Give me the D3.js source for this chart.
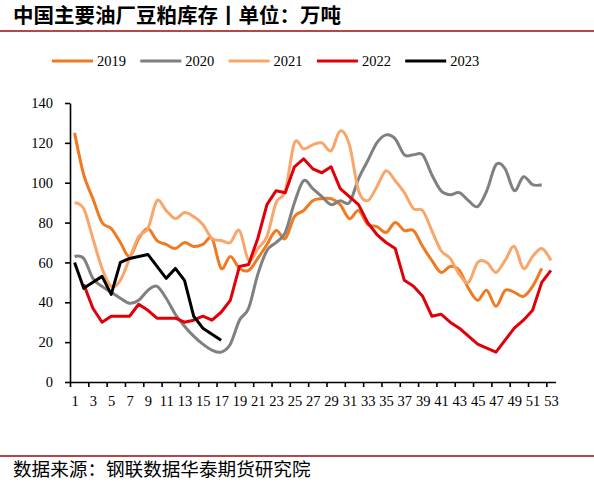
<!DOCTYPE html>
<html>
<head>
<meta charset="utf-8">
<script src="https://cdn.jsdelivr.net/npm/d3@7"></script>
<style>
  body { margin: 0; background: #fff; }
  svg { display: block; }
  .num { font-family: "Liberation Serif", "Times New Roman", serif; fill: #000; }
  .cjk { font-family: "Noto Sans CJK SC", "Noto Sans", sans-serif; fill: #000; }
</style>
</head>
<body>
<svg id="chart"></svg>
<script>
//begin: data
var weeks = [1,2,3,4,5,6,7,8,9,10,11,12,13,14,15,16,17,18,19,20,21,22,23,24,25,26,27,
             28,29,30,31,32,33,34,35,36,37,38,39,40,41,42,43,44,45,46,47,48,49,50,51,52,53];
var yTicks = [0,20,40,60,80,100,120,140];
var seriesNames = ["2019","2020","2021","2022","2023"];
var v2019 = [125,104,92,80,77,70,63,72,77,71,69,67,70,68,69,72,57,63,57,56,62,69,76,72,83,86,
             91,92,92,89,82,86,79,78,75,80,76,76,68,61,55,58,56,47,41,46,38,46,45,43,48,57,null];
var v2020 = [63,62,52,48,45,42,39.5,41,46,48,42,34,28,23,19,16,15,19,31,37,54,66,70,75,90,101,
             97,93,89,91,90,102,111,120,124,122,114,114,114,104,96,94,95,91,88,96,109,107,96,103,99,99,null];
var v2021 = [90,87,72,57,48,51,62,73,77,91,86,82,85,83,79,72,71,70,76,61,67,73,90,96,120,117,
             119,120,116,126,119,96,91,98,106,101,95,87,86,76,66,62,54,50,60,60,55,61,68,57,63,67,61];
var v2022 = [null,49,37,30,33,33,33,39,36,32,32,32,30,31,33,31,35,41,58,59,72,89,96,95,108,112,
             107,105,108,97,93,89,80,74,70,67,51,48,43,33,34,30,27,23,19,17,15,21,27,31,36,50,56];
var v2023 = [60,47,50,53,44,60,62,63,64,58,52,57,51,33,27,24,21];
//end: data

//begin: layout conf.
var svgWidth = 594,
    svgHeight = 484,
    plotLeft = 70,
    plotRight = 555.5,
    plotTop = 103,
    plotBottom = 382;
var colors = ["#F07A22", "#808080", "#F9A66C", "#E0000A", "#000000"];
var smooth = [true, true, true, false, false];
//end: layout conf.

var svg = d3.select("#chart")
    .attr("width", svgWidth)
    .attr("height", svgHeight);

svg.append("rect")
    .attr("width", svgWidth)
    .attr("height", svgHeight)
    .attr("fill", "#fff");

// title + separators
svg.append("text")
    .attr("class", "cjk")
    .attr("x", 13)
    .attr("y", 23)
    .style("font-size", "20.5px")
    .style("font-weight", "bold")
    .text("中国主要油厂豆粕库存丨单位：万吨");

svg.append("line")
    .attr("x1", 0).attr("x2", svgWidth)
    .attr("y1", 31).attr("y2", 31)
    .attr("stroke", "#B5474B")
    .attr("stroke-width", 2);

svg.append("line")
    .attr("x1", 0).attr("x2", svgWidth)
    .attr("y1", 456).attr("y2", 456)
    .attr("stroke", "#B5474B")
    .attr("stroke-width", 2);

svg.append("text")
    .attr("class", "cjk")
    .attr("x", 13)
    .attr("y", 476)
    .style("font-size", "18.6px")
    .text("数据来源：钢联数据华泰期货研究院");

// scales
var x = d3.scalePoint()
    .domain(weeks)
    .range([plotLeft, plotRight])
    .padding(0.5);

var xEdge = d3.scaleLinear()
    .domain([0, weeks.length])
    .range([plotLeft, plotRight]);

var y = d3.scaleLinear()
    .domain([0, 140])
    .range([plotBottom, plotTop]);

// axes
var yAxis = svg.append("g")
    .attr("transform", "translate(" + plotLeft + ",0)")
    .call(d3.axisLeft(y).tickValues(yTicks).tickSize(5).tickSizeOuter(0).tickPadding(12));

var xTicks = svg.append("g")
    .attr("transform", "translate(0," + plotBottom + ")")
    .call(d3.axisBottom(xEdge)
        .tickValues(weeks.filter(function(w){ return w % 2 === 1; }).map(function(w){ return w - 1; }))
        .tickSize(5).tickSizeOuter(0).tickFormat(""));

var xLabels = svg.append("g")
    .attr("transform", "translate(0," + plotBottom + ")")
    .call(d3.axisBottom(x)
        .tickValues(weeks.filter(function(w){ return w % 2 === 1; }))
        .tickSize(0).tickPadding(14));
xLabels.select(".domain").remove();

[yAxis, xTicks].forEach(function(g){
  g.selectAll(".domain, line").attr("stroke", "#000").attr("stroke-width", 1.6);
});
yAxis.selectAll("text").attr("class", "num").style("font-size", "14.5px").attr("font-family", null);
xLabels.selectAll("text").attr("class", "num").style("font-size", "14.5px").attr("font-family", null);

// lines
var allSeries = [v2019, v2020, v2021, v2022, v2023];

allSeries.forEach(function(values, i) {
  var line = d3.line()
      .defined(function(d){ return d != null; })
      .x(function(d, j){ return x(weeks[j]); })
      .y(function(d){ return y(d); })
      .curve(smooth[i] ? d3.curveCardinal.tension(0) : d3.curveLinear);

  svg.append("path")
      .datum(values)
      .attr("d", line)
      .attr("fill", "none")
      .attr("stroke", colors[i])
      .attr("stroke-width", 3)
      .attr("stroke-linejoin", "round");
});

// legend
var legend = svg.append("g")
    .selectAll("g")
    .data(seriesNames)
    .enter()
    .append("g")
    .attr("transform", function(d, i){ return "translate(" + [52 + i * 88.3, 61] + ")"; });

legend.append("line")
    .attr("x1", 0).attr("x2", 41)
    .attr("stroke", function(d, i){ return colors[i]; })
    .attr("stroke-width", 3);

legend.append("text")
    .attr("class", "num")
    .attr("x", 45)
    .attr("y", 5)
    .style("font-size", "14.5px")
    .text(function(d){ return d; });
</script>
</body>
</html>
